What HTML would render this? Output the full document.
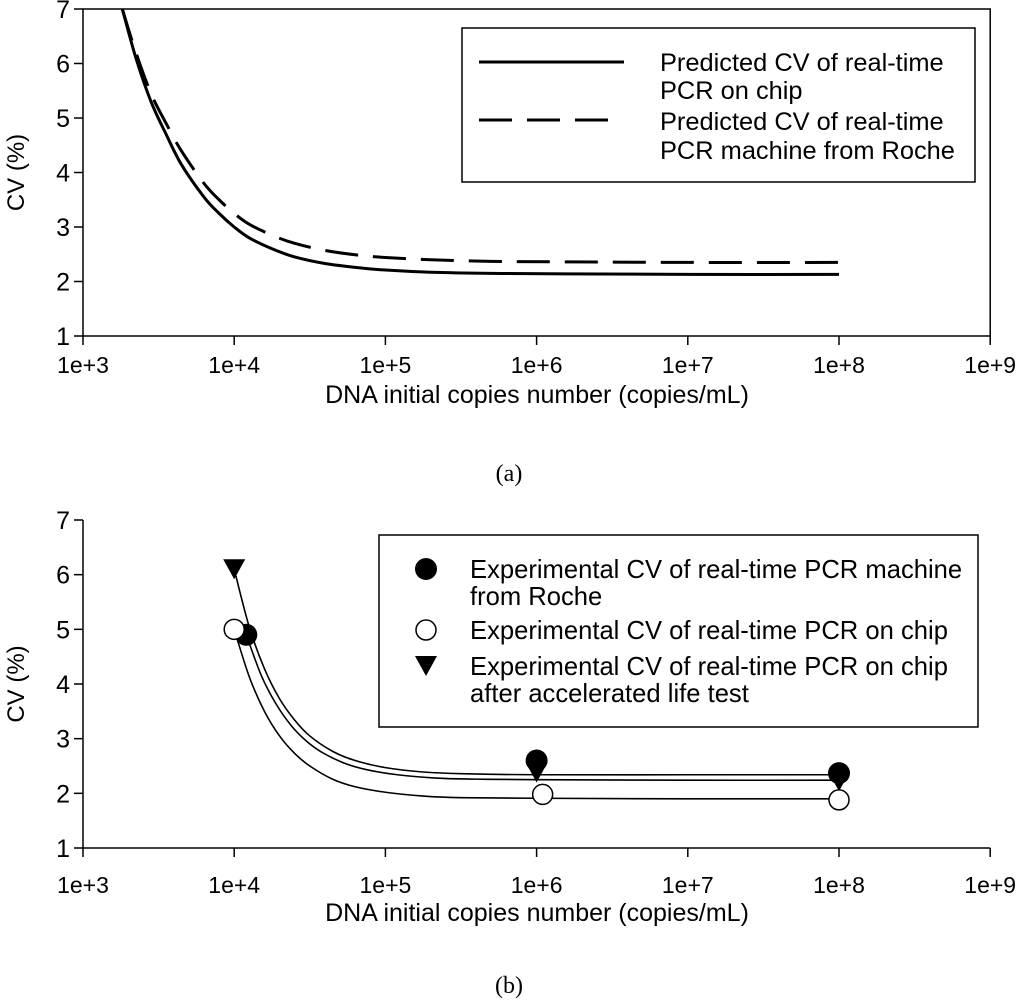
<!DOCTYPE html>
<html><head><meta charset="utf-8"><style>
body{margin:0;background:#fff}
svg text{font-family:"Liberation Sans",Arial,sans-serif;fill:#000}
</style></head><body>
<svg id="chart" width="1019" height="1000" viewBox="0 0 1019 1000" xmlns="http://www.w3.org/2000/svg">
<g id="top"></g>
<g id="bot"></g>
</svg>
<script>
const xTickLog = [3,4,5,6,7,8,9];
const xTickLabels = ["1e+3","1e+4","1e+5","1e+6","1e+7","1e+8","1e+9"];
const yTicks = [1,2,3,4,5,6,7];
// Panel a predicted curves (log10 copies, CV)
const aLog = [3.26,3.35,3.45,3.55,3.65,3.8,3.9,4.0,4.1,4.25,4.4,4.6,4.8,5.0,5.3,5.7,6.2,7,8];
const aChip = [7.0,6.1,5.3,4.7,4.15,3.55,3.25,3.0,2.8,2.6,2.45,2.33,2.26,2.21,2.17,2.15,2.14,2.13,2.13];
const aRoche = [7.0,6.2,5.45,4.9,4.4,3.8,3.5,3.25,3.05,2.85,2.7,2.57,2.49,2.44,2.4,2.37,2.36,2.35,2.35];
// Panel b experimental points
const bRocheLog = [4.08,6,8], bRoche = [4.9,2.6,2.37];
const bChipLog = [4,6.04,8], bChip = [5.0,1.98,1.88];
const bAltLog = [4,6,8], bAlt = [6.1,2.38,2.22];
// Panel b fitted curves
const fAltLog = [4,4.1,4.2,4.3,4.4,4.5,4.65,4.8,5,5.25,5.5,6,7,8];
const fAlt = [6.1,5.04,4.28,3.73,3.34,3.05,2.77,2.6,2.47,2.39,2.36,2.34,2.34,2.34];
const fRocheLog = [4.08,4.18,4.28,4.38,4.48,4.58,4.73,4.88,5.08,5.33,5.6,6,7,8];
const fRoche = [4.9,4.15,3.62,3.23,2.95,2.75,2.55,2.43,2.34,2.28,2.26,2.25,2.24,2.24];
const fChipLog = [4,4.1,4.2,4.3,4.4,4.5,4.65,4.8,5,5.25,5.5,6,7,8];
const fChip = [5.0,4.13,3.5,3.05,2.73,2.5,2.26,2.12,2.02,1.95,1.92,1.91,1.9,1.9];

const NS="http://www.w3.org/2000/svg";
function mk(p,t,a){const e=document.createElementNS(NS,t);for(const k in a)e.setAttribute(k,a[k]);p.appendChild(e);return e;}
const X0=83,DX=151.2;
const xs=l=>X0+(l-3)*DX;
function ysF(top,bot){return v=>bot-(v-1)*(bot-top)/6;}
function path(xsArr,ysArr,ys){
  const P=xsArr.map((l,i)=>[xs(l),ys(ysArr[i])]);
  let d="M"+P[0][0]+","+P[0][1];
  for(let i=0;i<P.length-1;i++){
    const p0=P[Math.max(0,i-1)],p1=P[i],p2=P[i+1],p3=P[Math.min(P.length-1,i+2)];
    const c1=[p1[0]+(p2[0]-p0[0])/6,p1[1]+(p2[1]-p0[1])/6];
    const c2=[p2[0]-(p3[0]-p1[0])/6,p2[1]-(p3[1]-p1[1])/6];
    d+=" C"+c1+" "+c2+" "+p2;
  }
  return d;
}
function axes(g,top,bot,frame,tickY,titleY){
  const ys=ysF(top,bot);
  if(frame){const r=mk(g,'rect',{x:X0,y:top,width:xs(9)-X0,height:bot-top,fill:'none',stroke:'#000','stroke-width':1.5});}
  else{const a=mk(g,'path',{d:`M${X0},${top}V${bot}H${xs(9)}`,fill:'none',stroke:'#000','stroke-width':1.5});}
  xTickLog.forEach((l,i)=>{
    const t=mk(g,'line',{x1:xs(l),x2:xs(l),y1:bot,y2:bot+9,stroke:'#000','stroke-width':1.5});
    const tx=mk(g,'text',{x:xs(l),y:tickY,'text-anchor':'middle','font-size':23});tx.textContent=xTickLabels[i];
  });
  yTicks.forEach(v=>{
    const t=mk(g,'line',{x1:X0-9,x2:X0,y1:ys(v),y2:ys(v),stroke:'#000','stroke-width':1.5});
    const tx=mk(g,'text',{x:X0-13,y:ys(v)+9,'text-anchor':'end','font-size':25});tx.textContent=v;
  });
  const xt=mk(g,'text',{x:537,y:titleY,'text-anchor':'middle','font-size':25});xt.textContent="DNA initial copies number (copies/mL)";
  const yt=mk(g,'text',{x:0,y:0,'text-anchor':'middle','font-size':24,transform:`translate(24,${(top+bot)/2}) rotate(-90)`});yt.textContent="CV (%)";
  return ys;
}
// Panel a
const gA=document.getElementById('top');
const ysA=axes(gA,9,336,true,373,403);
let p=mk(gA,'path',{d:path(aLog,aChip,ysA),fill:'none',stroke:'#000','stroke-width':3});
p=mk(gA,'path',{d:path(aLog,aRoche,ysA),fill:'none',stroke:'#000','stroke-width':3,'stroke-dasharray':'33,15'});
let lg=mk(gA,'g',{});
mk(lg,'rect',{x:462,y:28,width:513,height:154,fill:'#fff',stroke:'#000','stroke-width':1.5});
mk(lg,'line',{x1:479,x2:624,y1:62,y2:62,stroke:'#000','stroke-width':3});
mk(lg,'line',{x1:479,x2:609,y1:120,y2:120,stroke:'#000','stroke-width':3,'stroke-dasharray':'33,15'});
[["Predicted CV of real-time",71],["PCR on chip",99],["Predicted CV of real-time",130],["PCR machine from Roche",159]].forEach(([s,y])=>{const t=mk(lg,'text',{x:660,y:y,'font-size':25.4});t.textContent=s;});
let cap=mk(gA,'text',{x:509,y:481,'text-anchor':'middle','font-size':24,style:'font-family:"Liberation Serif",serif'});cap.textContent="(a)";
// Panel b
const gB=document.getElementById('bot');
const ysB=axes(gB,520,848,false,893,921);
[[fAltLog,fAlt],[fRocheLog,fRoche],[fChipLog,fChip]].forEach(([l,v],i)=>{const q=mk(gB,'path',{d:path(l,v,ysB),fill:'none',stroke:'#000','stroke-width':1.6});});
function tri(g,cx,cy){return mk(g,'path',{d:`M${cx-11},${cy-10}H${cx+11}L${cx},${cy+10}Z`,fill:'#000'});}
bRocheLog.forEach((l,i)=>{const c=mk(gB,'circle',{cx:xs(l),cy:ysB(bRoche[i]),r:11,fill:'#000'});});
bAltLog.forEach((l,i)=>{const c=tri(gB,xs(l),ysB(bAlt[i]));});
bChipLog.forEach((l,i)=>{const c=mk(gB,'circle',{cx:xs(l),cy:ysB(bChip[i]),r:10,fill:'#fff',stroke:'#000','stroke-width':1.5});});
lg=mk(gB,'g',{});
mk(lg,'rect',{x:379,y:535,width:599,height:192,fill:'#fff',stroke:'#000','stroke-width':1.5});
mk(lg,'circle',{cx:426,cy:569,r:11,fill:'#000'});
mk(lg,'circle',{cx:426,cy:630,r:10,fill:'#fff',stroke:'#000','stroke-width':1.5});
tri(lg,426,666);
[["Experimental CV of real-time PCR machine",578],["from Roche",605],["Experimental CV of real-time PCR on chip",639],["Experimental CV of real-time PCR on chip",675],["after accelerated life test",702]].forEach(([s,y])=>{const t=mk(lg,'text',{x:470,y:y,'font-size':25.6});t.textContent=s;});
cap=mk(gB,'text',{x:509,y:993,'text-anchor':'middle','font-size':24,style:'font-family:"Liberation Serif",serif'});cap.textContent="(b)";
</script>
</body></html>
